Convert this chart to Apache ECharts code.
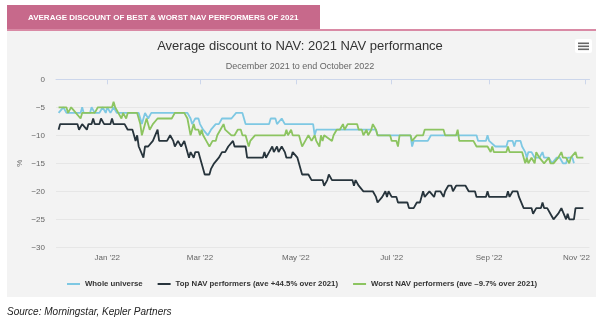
<!DOCTYPE html>
<html>
<head>
<meta charset="utf-8">
<script src="https://cdn.jsdelivr.net/npm/echarts@6/dist/echarts.min.js"></script>
<style>
html,body{margin:0;padding:0;background:#fff;}
#c{width:600px;height:327px;}
</style>
</head>
<body>
<div id="c"></div>
<script>
// ---- data ----
const seriesNames = ['Whole universe', 'Top NAV performers (ave +44.5% over 2021)', 'Worst NAV performers (ave \u20139.7% over 2021)'];
const xTickDates = ['2022-01-01','2022-03-01','2022-05-01','2022-07-01','2022-09-01','2022-11-01'];
const xTickLabels = ["Jan '22","Mar '22","May '22","Jul '22","Sep '22","Nov '22"];
const yTicks = [0,-5,-10,-15,-20,-25,-30];

const wholeUniverse = [
['2021-12-01',-6],['2021-12-04',-5],['2021-12-06',-6],['2021-12-15',-6],['2021-12-16',-5],['2021-12-17',-6],
['2021-12-21',-6],['2021-12-22',-5],['2021-12-24',-6],['2021-12-27',-6],['2021-12-29',-5],['2021-12-31',-6],
['2022-01-01',-5],['2022-01-03',-6],['2022-01-05',-5],['2022-01-07',-6],['2022-01-21',-6],['2022-01-23',-8],
['2022-01-25',-6],['2022-01-27',-7],['2022-01-29',-6],['2022-02-21',-6],['2022-02-23',-7],['2022-02-24',-8],
['2022-02-26',-7],['2022-02-28',-7],['2022-03-01',-8],['2022-03-03',-9],['2022-03-06',-10],['2022-03-08',-9],
['2022-03-11',-8],['2022-03-13',-8],['2022-03-15',-7],['2022-03-21',-7],['2022-03-24',-6],['2022-03-28',-6],
['2022-03-30',-8],['2022-04-14',-8],['2022-04-15',-7],['2022-04-18',-7],['2022-04-19',-8],['2022-04-20',-8],
['2022-04-22',-7],['2022-04-23',-7],['2022-04-24',-8],['2022-05-12',-8],['2022-05-13',-10],['2022-05-14',-9],
['2022-06-21',-9],['2022-06-22',-10],['2022-07-13',-10],['2022-07-14',-12],['2022-07-15',-11],['2022-07-24',-11],
['2022-07-26',-10],['2022-08-24',-10],['2022-08-25',-11],['2022-08-30',-11],['2022-08-31',-10],['2022-09-01',-11],
['2022-09-05',-12],['2022-09-12',-12],['2022-09-13',-11],['2022-09-16',-11],['2022-09-17',-12],['2022-09-18',-11],
['2022-09-21',-11],['2022-09-22',-12],['2022-09-24',-13],['2022-09-25',-14],['2022-09-26',-13],['2022-09-28',-13],
['2022-09-30',-14],['2022-10-03',-14],['2022-10-05',-13],['2022-10-06',-14],['2022-10-09',-14],['2022-10-11',-15],
['2022-10-14',-14],['2022-10-16',-14],['2022-10-18',-15],['2022-10-20',-15],['2022-10-21',-14],['2022-10-24',-14],
['2022-10-25',-15]
];

const topNav = [
['2021-12-01',-9],['2021-12-02',-8],['2021-12-13',-8],['2021-12-14',-9],['2021-12-16',-8],['2021-12-19',-9],
['2021-12-20',-8],['2021-12-22',-8],['2021-12-23',-7],['2021-12-24',-8],['2021-12-27',-8],['2021-12-28',-7],
['2021-12-30',-8],['2022-01-03',-8],['2022-01-04',-7],['2022-01-05',-8],['2022-01-12',-8],['2022-01-14',-9],
['2022-01-17',-9],['2022-01-18',-10],['2022-01-19',-11],['2022-01-20',-10],['2022-01-21',-12],['2022-01-24',-14],
['2022-01-25',-12],['2022-01-27',-12],['2022-01-30',-11],['2022-02-02',-9],['2022-02-03',-11],['2022-02-08',-11],
['2022-02-10',-10],['2022-02-12',-11],['2022-02-13',-12],['2022-02-15',-11],['2022-02-17',-12],['2022-02-19',-11],
['2022-02-20',-11],['2022-02-22',-14],['2022-02-23',-13],['2022-02-25',-14],['2022-02-26',-13],['2022-02-28',-13],
['2022-03-01',-14],['2022-03-02',-15],['2022-03-04',-17],['2022-03-07',-17],['2022-03-08',-16],['2022-03-09',-16],
['2022-03-10',-15],['2022-03-13',-14],['2022-03-15',-13],['2022-03-17',-13],['2022-03-19',-12],['2022-03-22',-11],
['2022-03-23',-12],['2022-03-30',-12],['2022-03-31',-14],['2022-04-10',-14],['2022-04-11',-13],['2022-04-12',-14],
['2022-04-14',-13],['2022-04-16',-12],['2022-04-17',-13],['2022-04-19',-12],['2022-04-20',-13],['2022-04-22',-12],
['2022-04-24',-13],['2022-04-25',-14],['2022-04-28',-14],['2022-04-29',-13],['2022-05-02',-14],['2022-05-04',-16],
['2022-05-05',-17],['2022-05-09',-17],['2022-05-11',-18],['2022-05-18',-18],['2022-05-19',-19],['2022-05-21',-18],
['2022-05-22',-17],['2022-05-24',-18],['2022-06-06',-18],['2022-06-07',-19],['2022-06-08',-18],['2022-06-10',-19],
['2022-06-11',-19],['2022-06-13',-20],['2022-06-19',-20],['2022-06-21',-21],['2022-06-22',-22],['2022-06-25',-21],
['2022-06-27',-20],['2022-06-28',-21],['2022-06-29',-20],['2022-07-01',-21],['2022-07-04',-21],['2022-07-05',-22],
['2022-07-11',-22],['2022-07-12',-23],['2022-07-15',-23],['2022-07-17',-22],['2022-07-19',-22],['2022-07-21',-20],
['2022-07-22',-21],['2022-07-25',-20],['2022-07-28',-21],['2022-07-29',-20],['2022-08-01',-20],['2022-08-03',-21],
['2022-08-04',-20],['2022-08-06',-19],['2022-08-08',-19],['2022-08-09',-20],['2022-08-11',-19],['2022-08-17',-19],
['2022-08-19',-20],['2022-08-23',-20],['2022-08-24',-21],['2022-08-30',-21],['2022-08-31',-20],['2022-09-01',-21],
['2022-09-12',-21],['2022-09-13',-20],['2022-09-14',-21],['2022-09-16',-20],['2022-09-19',-20],['2022-09-20',-21],
['2022-09-23',-23],['2022-09-28',-23],['2022-09-29',-24],['2022-10-01',-23],['2022-10-04',-23],['2022-10-05',-22],
['2022-10-06',-23],['2022-10-08',-23],['2022-10-10',-24],['2022-10-12',-25],['2022-10-15',-24],['2022-10-17',-23],
['2022-10-20',-25],['2022-10-21',-24],['2022-10-22',-25],['2022-10-25',-25],['2022-10-26',-23],['2022-10-31',-23]
];

const worstNav = [
['2021-12-01',-5],['2021-12-06',-5],['2021-12-07',-6],['2021-12-09',-5],['2021-12-12',-6],['2021-12-13',-6],
['2021-12-15',-7],['2021-12-16',-6],['2021-12-24',-6],['2021-12-26',-5],['2022-01-02',-5],['2022-01-04',-5],
['2022-01-05',-4],['2022-01-06',-5],['2022-01-08',-6],['2022-01-09',-6],['2022-01-10',-7],['2022-01-11',-6],
['2022-01-13',-7],['2022-01-14',-6],['2022-01-20',-6],['2022-01-22',-8],['2022-01-23',-10],['2022-01-25',-8],
['2022-01-26',-7],['2022-01-28',-9],['2022-01-30',-8],['2022-02-02',-7],['2022-02-11',-7],['2022-02-13',-6],
['2022-02-19',-6],['2022-02-21',-7],['2022-02-23',-10],['2022-02-25',-8],['2022-02-26',-9],['2022-02-28',-9],
['2022-03-01',-10],['2022-03-02',-9],['2022-03-03',-10],['2022-03-05',-11],['2022-03-07',-12],['2022-03-09',-11],
['2022-03-11',-11],['2022-03-12',-10],['2022-03-14',-9],['2022-03-16',-8],['2022-03-17',-9],['2022-03-21',-10],
['2022-03-23',-10],['2022-03-25',-9],['2022-03-27',-9],['2022-03-28',-10],['2022-03-30',-10],['2022-04-01',-12],
['2022-04-02',-11],['2022-04-05',-10],['2022-04-24',-10],['2022-04-25',-9],['2022-04-26',-10],['2022-04-28',-9],
['2022-04-29',-10],['2022-05-03',-10],['2022-05-04',-11],['2022-05-05',-12],['2022-05-07',-11],['2022-05-09',-10],
['2022-05-11',-11],['2022-05-13',-10],['2022-05-14',-11],['2022-05-16',-12],['2022-05-17',-10],['2022-05-18',-11],
['2022-05-19',-10],['2022-05-24',-11],['2022-05-25',-10],['2022-05-27',-9],['2022-05-29',-9],['2022-05-31',-8],
['2022-06-01',-9],['2022-06-03',-8],['2022-06-09',-8],['2022-06-10',-9],['2022-06-12',-9],['2022-06-13',-10],
['2022-06-15',-9],['2022-06-16',-10],['2022-06-18',-9],['2022-06-19',-8],['2022-06-20',-8],['2022-06-21',-9],
['2022-06-22',-10],['2022-06-30',-10],['2022-07-01',-11],['2022-07-04',-11],['2022-07-05',-12],['2022-07-06',-10],
['2022-07-13',-10],['2022-07-14',-11],['2022-07-17',-10],['2022-07-21',-10],['2022-07-22',-9],['2022-08-03',-9],
['2022-08-04',-10],['2022-08-11',-10],['2022-08-12',-9],['2022-08-13',-11],['2022-08-22',-11],['2022-08-24',-12],
['2022-08-31',-12],['2022-09-02',-13],['2022-09-03',-12],['2022-09-04',-13],['2022-09-12',-13],['2022-09-13',-12],
['2022-09-14',-13],['2022-09-22',-13],['2022-09-24',-15],['2022-09-25',-14],['2022-09-26',-15],['2022-09-28',-14],
['2022-09-30',-15],['2022-10-01',-13],['2022-10-03',-14],['2022-10-06',-15],['2022-10-07',-15],['2022-10-09',-14],
['2022-10-10',-15],['2022-10-12',-15],['2022-10-15',-14],['2022-10-17',-13],['2022-10-18',-14],['2022-10-20',-14],
['2022-10-22',-15],['2022-10-23',-14],['2022-10-26',-13],['2022-10-27',-14],['2022-10-31',-14]
];

// ---- chart ----
function ts(s){ const p = s.split('-').map(Number); return Date.UTC(p[0], p[1]-1, p[2]); }
const DAY = 864e5;
const tickTs = xTickDates.map(ts);
const axisMin = tickTs[0] - 32.65 * DAY;
const axisMax = tickTs[0] + 306.9 * DAY;
const toXY = arr => arr.map(d => [ts(d[0]), d[1]]);
const FONT = "'Liberation Sans', Arial, sans-serif";

const chart = echarts.init(document.getElementById('c'), null, {renderer: 'canvas'});
chart.setOption({
  animation: false,
  backgroundColor: '#ffffff',
  textStyle: {fontFamily: FONT},
  color: ['#7ec8e3', '#27343c', '#8cc460'],
  title: [
    {text: 'Average discount to NAV: 2021 NAV performance', left: 'center', top: 35,
     textStyle: {fontSize: 13, fontWeight: 'normal', color: '#333333', fontFamily: FONT}},
    {text: 'December 2021 to end October 2022', left: 'center', top: 57,
     textStyle: {fontSize: 9, fontWeight: 'normal', color: '#666666', fontFamily: FONT}}
  ],
  grid: {left: 56, right: 10.5, top: 79.3, bottom: 79.7, containLabel: false, outerBoundsMode: 'none'},
  legend: {
    data: seriesNames, left: 62, top: 275, icon: 'rect', itemWidth: 13, itemHeight: 2, itemGap: 15,
    textStyle: {fontSize: 7.8, fontWeight: 'bold', color: '#333333', fontFamily: FONT}
  },
  xAxis: {
    type: 'value', min: axisMin, max: axisMax, scale: true,
    axisLine: {show: true, lineStyle: {color: '#ccd6eb', width: 1}},
    axisTick: {show: true, length: 5, lineStyle: {color: '#ccd6eb'}, customValues: tickTs},
    splitLine: {show: false},
    axisLabel: {
      customValues: tickTs, fontSize: 8, color: '#666666', margin: 6, fontFamily: FONT,
      formatter: function (v) {
        let idx = 0, best = Infinity;
        tickTs.forEach((t, i) => { const d = Math.abs(t - v); if (d < best) { best = d; idx = i; } });
        const lab = xTickLabels[idx];
        return idx === tickTs.length - 1 ? '{n|' + lab + '}' : lab;
      },
      rich: {n: {fontSize: 8, color: '#666666', fontFamily: FONT, padding: [0, 17, 0, 0]}}
    }
  },
  yAxis: {
    type: 'value', min: yTicks[yTicks.length - 1], max: yTicks[0], interval: 5,
    name: '%', nameLocation: 'middle', nameGap: 32, nameRotate: 90, nameMoveOverlap: false,
    nameTextStyle: {fontSize: 8, color: '#666666', fontFamily: FONT},
    axisLine: {show: false}, axisTick: {show: false},
    splitLine: {lineStyle: {color: '#e6e6e6', width: 1}},
    axisLabel: {fontSize: 8, color: '#666666', margin: 11, fontFamily: FONT,
      formatter: v => (v < 0 ? '\u2212' + (-v) : String(v))}
  },
  series: [
    {name: seriesNames[0], type: 'line', data: toXY(wholeUniverse), showSymbol: false, lineStyle: {width: 1.8}, z: 2},
    {name: seriesNames[1], type: 'line', data: toXY(topNav), showSymbol: false, lineStyle: {width: 1.8}, z: 3},
    {name: seriesNames[2], type: 'line', data: toXY(worstNav), showSymbol: false, lineStyle: {width: 1.8}, z: 4}
  ],
  graphic: [
    {type: 'rect', z: -10, silent: true, shape: {x: 7, y: 31, width: 589, height: 266}, style: {fill: '#f3f3f3'}},
    {type: 'rect', z: -10, silent: true, shape: {x: 7, y: 5, width: 313, height: 24}, style: {fill: '#c7698b'}},
    {type: 'rect', z: -10, silent: true, shape: {x: 7, y: 29, width: 589, height: 2}, style: {fill: '#d98aa5'}},
    {type: 'text', x: 28, y: 17.5, silent: true,
     style: {text: 'AVERAGE DISCOUNT OF BEST & WORST NAV PERFORMERS OF 2021', fill: '#ffffff',
             fontSize: 8, fontWeight: 'bold', fontFamily: FONT, verticalAlign: 'middle'}},
    {type: 'text', x: 7, y: 312, silent: true,
     style: {text: 'Source: Morningstar, Kepler Partners', fill: '#222222',
             fontSize: 10, fontStyle: 'italic', fontFamily: FONT, verticalAlign: 'middle'}},
    {type: 'rect', silent: true, shape: {x: 575, y: 39, width: 17, height: 14, r: 2}, style: {fill: '#ffffff'}},
    {type: 'rect', silent: true, shape: {x: 578, y: 42.5, width: 11, height: 1.6}, style: {fill: '#666666'}},
    {type: 'rect', silent: true, shape: {x: 578, y: 45.5, width: 11, height: 1.6}, style: {fill: '#666666'}},
    {type: 'rect', silent: true, shape: {x: 578, y: 48.5, width: 11, height: 1.6}, style: {fill: '#666666'}}
  ]
});
</script>
</body>
</html>
